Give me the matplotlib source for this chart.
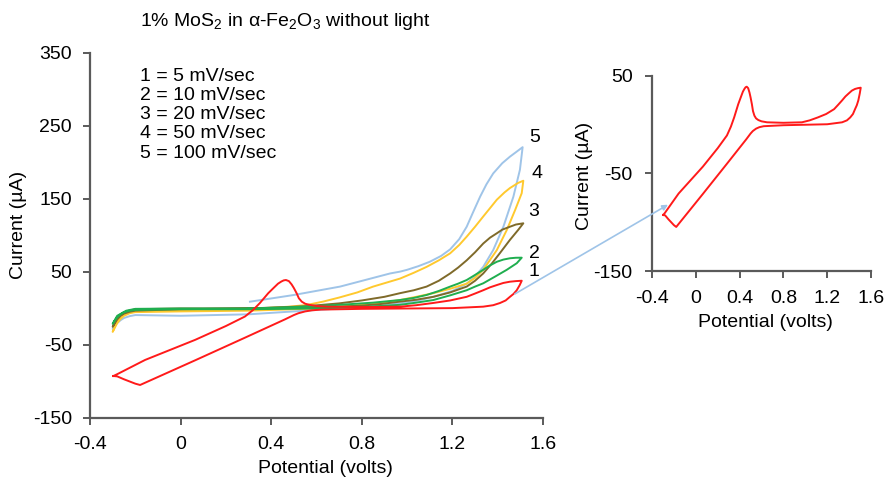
import matplotlib
matplotlib.use("Agg")
import matplotlib.pyplot as plt
from matplotlib.patches import ConnectionPatch

plt.rcParams['font.family'] = ['Liberation Sans', 'DejaVu Sans']
plt.rcParams['mathtext.fontset'] = 'custom'
plt.rcParams['mathtext.rm'] = 'Liberation Sans'
plt.rcParams['axes.unicode_minus'] = False

# 1 = 5 mV/sec (red), also shown alone in the inset
red_v = [-0.297, -0.28, -0.157, 0.064, 0.20, 0.284, 0.32, 0.35, 0.387, 0.41, 0.43, 0.445,
         0.455, 0.465, 0.478, 0.49, 0.50, 0.512, 0.522, 0.535, 0.55, 0.571, 0.60, 0.65,
         0.80, 0.969, 1.04, 1.114, 1.19, 1.263, 1.30, 1.336, 1.366, 1.395, 1.425, 1.454,
         1.48, 1.506, 1.497, 1.484, 1.47, 1.454, 1.435, 1.41, 1.38, 1.336, 1.20, 1.00,
         0.80, 0.62, 0.58, 0.55, 0.52, 0.50, 0.46, 0.284, 0.064, -0.179, -0.20, -0.25,
         -0.28, -0.297]
red_i = [-92.5, -90, -70.5, -43, -24, -11, -2, 7.5, 21, 28, 34, 37,
         38.5, 39, 37.5, 33, 28, 21, 14, 9.3, 6.5, 4.8, 3.5, 2.5,
         2, 2.5, 4.5, 7.5, 11, 16, 20.5, 25, 29, 32, 35, 36.7,
         37.5, 38, 32, 25, 20, 16, 11, 7.5, 4.5, 2.5, 0.5, 0,
         -0.5, -1.5, -2.5, -4, -6.5, -9, -15, -40, -71, -104.8, -103, -97,
         -93, -92.5]

# 2 = 10 mV/sec (green)
green_v = [0.30, 0.50, 0.70, 0.85, 0.969, 1.03, 1.086, 1.14, 1.19, 1.225, 1.263, 1.30,
           1.336, 1.366, 1.396, 1.425, 1.454, 1.48, 1.506, 1.484, 1.44, 1.39, 1.336, 1.30,
           1.263, 1.19, 1.116, 1.04, 0.969, 0.80, 0.60, 0.30, 0.0, -0.20, -0.225, -0.25,
           -0.265, -0.28, -0.29, -0.30, -0.28, -0.24, -0.20, 0.0, 0.30]
green_i = [0, 2, 5, 8, 11.6, 14.5, 18.5, 24, 30, 34, 39, 46,
           53, 59, 64, 67, 68.8, 69.5, 69.6, 62, 53, 44, 34.5, 30,
           25, 18, 11.6, 8, 5, 2, 0, -1, -1, -2, -3, -5,
           -8, -12, -16, -21, -10, -3, -0.5, 0, 0]

# 3 = 20 mV/sec (olive)
olive_v = [0.30, 0.55, 0.70, 0.80, 0.90, 0.969, 1.03, 1.086, 1.14, 1.19, 1.225, 1.263,
           1.30, 1.336, 1.366, 1.396, 1.42, 1.454, 1.48, 1.513, 1.49, 1.454, 1.41, 1.375,
           1.336, 1.30, 1.263, 1.19, 1.116, 1.04, 0.969, 0.88, 0.80, 0.60, 0.30, 0.0,
           -0.20, -0.225, -0.25, -0.265, -0.28, -0.29, -0.30, -0.28, -0.24, -0.20, 0.0, 0.30]
olive_i = [0, 3, 7, 11, 16, 21, 25, 30, 38, 48, 56, 66,
           77, 89, 97, 103, 108, 112, 115, 116.7, 107.5, 94, 76, 62,
           48, 38, 30, 22, 16, 12, 9.4, 6, 4, 1, 0, -1,
           -3, -4.5, -7, -10, -15, -20, -25, -12, -4, -1, 0, 0]

# 4 = 50 mV/sec (yellow)
yellow_v = [0.20, 0.40, 0.48, 0.557, 0.63, 0.70, 0.78, 0.85, 0.969, 1.03, 1.086, 1.14,
            1.19, 1.23, 1.263, 1.30, 1.336, 1.37, 1.396, 1.43, 1.454, 1.49, 1.513, 1.506,
            1.477, 1.44, 1.396, 1.336, 1.30, 1.263, 1.19, 1.116, 1.04, 0.969, 0.89, 0.80,
            0.60, 0.30, 0.0, -0.20, -0.225, -0.25, -0.265, -0.28, -0.29, -0.30, -0.28, -0.24,
            -0.20, 0.0, 0.20]
yellow_i = [-2, 1, 2.5, 4.8, 9.5, 15, 22, 30, 41, 49, 57, 66,
            75.6, 87, 98.4, 112, 126, 139, 149, 159, 165, 172, 175, 158,
            135, 107.5, 80, 53, 42, 34, 27, 21, 16, 11.6, 8, 5,
            0, -3, -4, -5, -6.5, -10, -14, -20, -26, -32, -16, -6,
            -3, -2, -2]

# 5 = 100 mV/sec (blue)
blue_v = [0.306, 0.50, 0.704, 0.925, 0.969, 1.00, 1.05, 1.10, 1.15, 1.19, 1.23, 1.263,
          1.29, 1.322, 1.35, 1.38, 1.42, 1.454, 1.48, 1.51, 1.498, 1.469, 1.425, 1.38,
          1.336, 1.30, 1.263, 1.20, 1.116, 1.05, 0.969, 0.85, 0.70, 0.50, 0.30, 0.0,
          -0.20, -0.225, -0.25, -0.265, -0.28, -0.29, -0.30, -0.28, -0.24, -0.20, 0.0, 0.30]
blue_i = [9.3, 18.5, 30, 48, 50.5, 53, 58, 64, 72, 81, 95, 112,
          131, 153, 170, 185, 199, 208, 214, 221, 190, 153, 112, 80,
          57, 44, 34, 24, 16, 11, 7, 3, 0, -4, -8, -10,
          -9, -10.5, -13, -16, -20, -24, -28, -14, -6, -3, -2, -1]

curve_labels = ['1', '2', '3', '4', '5']
label_v = [1.535, 1.54, 1.535, 1.547, 1.54]
label_i = [51, 76, 133, 185, 234]
rates = ['1 = 5 mV/sec', '2 = 10 mV/sec', '3 = 20 mV/sec', '4 = 50 mV/sec', '5 = 100 mV/sec']

xticks = [-0.4, 0, 0.4, 0.8, 1.2, 1.6]
xtick_labels = ['-0.4', '0', '0.4', '0.8', '1.2', '1.6']

c_red = '#ff1a1a'
c_green = '#1fae4f'
c_olive = '#7f6a2a'
c_yellow = '#ffc92e'
c_blue = '#9fc4e8'
spine_c = '#5a5a5a'

fig = plt.figure(figsize=(8.87, 4.8), dpi=100)
ax = fig.add_axes([0.1015, 0.1292, 0.5107, 0.7604])
ins = fig.add_axes([0.7351, 0.4354, 0.2469, 0.4063])

lw = 1.4
ax.plot(blue_v, blue_i, color=c_blue, lw=lw)
ax.plot(yellow_v, yellow_i, color=c_yellow, lw=lw)
ax.plot(olive_v, olive_i, color=c_olive, lw=lw)
ax.plot(green_v, green_i, color=c_green, lw=lw)
ax.plot(red_v, red_i, color=c_red, lw=lw)
ins.plot(red_v, red_i, color=c_red, lw=lw)

for lab, x, y in zip(curve_labels, label_v, label_i):
    ax.text(x, y, lab, fontsize=14, ha='left', va='center')

def style(a, ylim, yticks, tsize, pad):
    a.set_xlim(-0.4, 1.6)
    a.set_ylim(*ylim)
    a.set_xticks(xticks)
    a.set_xticklabels(xtick_labels)
    a.set_yticks(yticks)
    for s in ['top', 'right']:
        a.spines[s].set_visible(False)
    for s in ['left', 'bottom']:
        a.spines[s].set_color(spine_c)
        a.spines[s].set_linewidth(1.6)
    a.tick_params(direction='out', length=5, width=1.4, color=spine_c,
                  labelsize=tsize, pad=pad)

style(ax, (-150, 350), [-150, -50, 50, 150, 250, 350], 14, 8)
style(ins, (-150, 50), [-150, -50, 50], 14, 9)

ax.set_xlabel('Potential (volts)', fontsize=14)
ax.set_ylabel('Current (µA)', fontsize=14)
ax.xaxis.set_label_coords(0.519, -0.115)
ax.yaxis.set_label_coords(-0.139, 0.529)
ins.set_xlabel('Potential (volts)', fontsize=14)
ins.set_ylabel('Current (µA)', fontsize=14)
ins.xaxis.set_label_coords(0.516, -0.22)
ins.yaxis.set_label_coords(-0.27, 0.49)

fig.text(0.158, 0.955, '1% MoS$_2$ in α-Fe$_2$O$_3$ without light', fontsize=14,
         ha='left', va='center')
for k, r in enumerate(rates):
    fig.text(0.158, 1 - (76.7 + 19.1 * k) / 480, r, fontsize=14, ha='left', va='center')

arrow = ConnectionPatch(xyA=(1.476, 20), coordsA=ax.transData,
                        xyB=(-0.254, -82), coordsB=ins.transData,
                        arrowstyle='-|>', mutation_scale=8, color=c_blue, lw=1.2)
fig.add_artist(arrow)

fig.savefig('out.png', dpi=100)
